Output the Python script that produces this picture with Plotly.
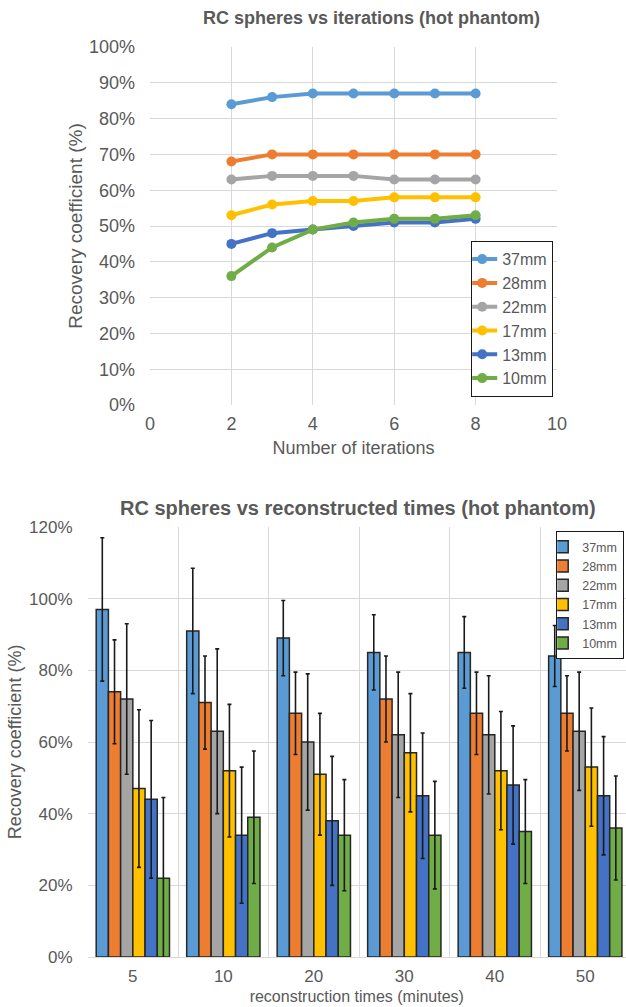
import plotly.graph_objects as go

# ---------------- data ----------------
iterations = [2, 3, 4, 5, 6, 7, 8]
sizes = ["37mm", "28mm", "22mm", "17mm", "13mm", "10mm"]
rc_37 = [84, 86, 87, 87, 87, 87, 87]
rc_28 = [68, 70, 70, 70, 70, 70, 70]
rc_22 = [63, 64, 64, 64, 63, 63, 63]
rc_17 = [53, 56, 57, 57, 58, 58, 58]
rc_13 = [45, 48, 49, 50, 51, 51, 52]
rc_10 = [36, 44, 49, 51, 52, 52, 53]

times = ["5", "10", "20", "30", "40", "50"]
bar_37 = [97, 91, 89, 85, 85, 84]
bar_28 = [74, 71, 68, 72, 68, 68]
bar_22 = [72, 63, 60, 62, 62, 63]
bar_17 = [47, 52, 51, 57, 52, 53]
bar_13 = [44, 34, 38, 45, 48, 45]
bar_10 = [22, 39, 34, 34, 35, 36]
err_37 = [20, 17.5, 10.5, 10.5, 10, 8.5]
err_28 = [14.5, 13, 11.5, 12, 11.5, 10.5]
err_22 = [21, 23, 19, 17.5, 16.5, 16.5]
err_17 = [22, 18.5, 17, 16.5, 16.5, 16.5]
err_13 = [22, 19, 18, 17.5, 16.5, 16.5]
err_10 = [22.5, 18.5, 15.5, 15, 14.5, 14.5]

colors = ["#5B9BD5", "#ED7D31", "#A5A5A5", "#FFC000", "#4472C4", "#70AD47"]

line_series = [rc_37, rc_28, rc_22, rc_17, rc_13, rc_10]
bar_series = [bar_37, bar_28, bar_22, bar_17, bar_13, bar_10]
err_series = [err_37, err_28, err_22, err_17, err_13, err_10]

FONT = "Liberation Sans, Arial, sans-serif"
TXT = "#595959"
GRID = "#D9D9D9"
W, H = 626, 1007

fig = go.Figure()

for name, vals, col in zip(sizes, line_series, colors):
    fig.add_trace(go.Scatter(
        x=iterations, y=vals, name=name, mode="lines+markers",
        line=dict(color=col, width=4), marker=dict(color=col, size=10),
        xaxis="x", yaxis="y", legend="legend",
    ))

for name, vals, errs, col in zip(sizes, bar_series, err_series, colors):
    fig.add_trace(go.Bar(
        x=times, y=vals, name=name,
        marker=dict(color=col, line=dict(color="#262626", width=1.5)),
        error_y=dict(type="data", array=errs, visible=True, color="#1a1a1a",
                     thickness=1.6, width=2),
        xaxis="x2", yaxis="y2", legend="legend2",
    ))

fig.update_layout(
    width=W, height=H,
    margin=dict(l=0, r=0, t=0, b=0, autoexpand=False),
    paper_bgcolor="white", plot_bgcolor="white",
    font=dict(family=FONT, color=TXT, size=17),
    barmode="group", bargap=0.19, bargroupgap=0,
    xaxis=dict(domain=[150 / W, 557 / W], anchor="y", range=[0, 10], dtick=2,
               showgrid=True, gridcolor=GRID, gridwidth=1.2, zeroline=False,
               showline=False, ticks="", ticklabelstandoff=6, automargin=False,
               tickfont=dict(size=18, color=TXT),
               title=dict(text="Number of iterations", font=dict(size=18, color=TXT), standoff=8)),
    yaxis=dict(domain=[1 - 405 / H, 1 - 47 / H], anchor="x", range=[0, 100], dtick=10,
               ticksuffix="%", showgrid=True, gridcolor=GRID, gridwidth=1.2,
               zeroline=False, showline=False, ticks="", ticklabelstandoff=14,
               automargin=False, tickfont=dict(size=18, color=TXT),
               title=dict(text="Recovery coefficient (%)", font=dict(size=19, color=TXT), standoff=1)),
    xaxis2=dict(domain=[87.6 / W, 1.0], anchor="y2", type="category",
                range=[-0.5, 5.45], tickson="boundaries",
                showgrid=True, gridcolor=GRID, gridwidth=1.2, showline=True,
                linecolor=GRID, linewidth=1.2, ticks="", ticklabelstandoff=3,
                automargin=False, tickfont=dict(size=17, color=TXT),
                title=dict(text="reconstruction times (minutes)", font=dict(size=16, color=TXT), standoff=6)),
    yaxis2=dict(domain=[1 - 957 / H, 1 - 527 / H], anchor="x2", range=[0, 120], dtick=20,
                ticksuffix="%", showgrid=True, gridcolor=GRID, gridwidth=1.2,
                zeroline=False, showline=False, ticks="", ticklabelstandoff=14,
                automargin=False, tickfont=dict(size=17, color=TXT),
                title=dict(text="Recovery coefficient (%)", font=dict(size=18, color=TXT), standoff=2)),
    legend=dict(x=553 / W, y=1 - 241 / H, xanchor="right", yanchor="top",
                bgcolor="white", bordercolor="#1a1a1a", borderwidth=1.2,
                font=dict(size=16, color=TXT), itemwidth=30, tracegroupgap=0,
                indentation=-10),
    legend2=dict(x=624 / W, y=1 - 531 / H, xanchor="right", yanchor="top",
                 bgcolor="white", bordercolor="#1a1a1a", borderwidth=1.2,
                 font=dict(size=12.5, color=TXT), itemwidth=30, tracegroupgap=0,
                 indentation=-15),
    annotations=[
        dict(text="<b>RC spheres vs iterations (hot phantom)</b>", x=372 / W, y=1 - 18 / H,
             xref="paper", yref="paper", showarrow=False, xanchor="center", yanchor="middle",
             font=dict(size=18, color=TXT)),
        dict(text="<b>RC spheres vs reconstructed times (hot phantom)</b>", x=358 / W, y=1 - 508 / H,
             xref="paper", yref="paper", showarrow=False, xanchor="center", yanchor="middle",
             font=dict(size=20, color=TXT)),
    ],
)

fig.write_html("out.html")
